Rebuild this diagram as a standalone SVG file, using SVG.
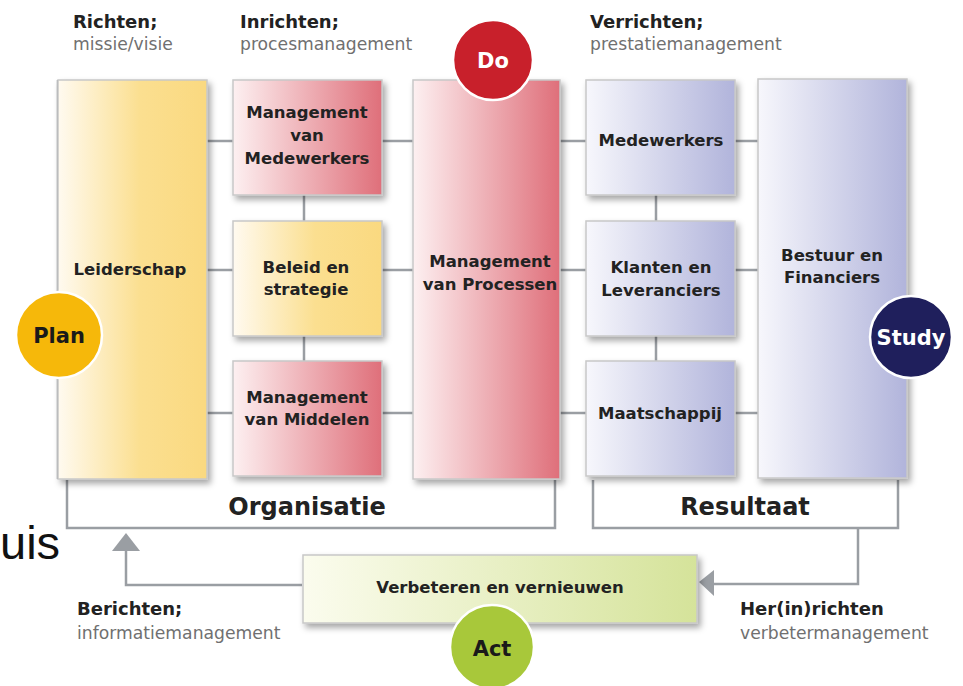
<svg xmlns="http://www.w3.org/2000/svg" width="963" height="686" viewBox="0 0 963 686">
<defs>
<linearGradient id="gy" x1="0" y1="0" x2="1" y2="0"><stop offset="0" stop-color="#fffaf0"/><stop offset="0.55" stop-color="#fbdf90"/><stop offset="1" stop-color="#fad980"/></linearGradient>
<linearGradient id="gr" x1="0" y1="0" x2="1" y2="0"><stop offset="0" stop-color="#fdf0f1"/><stop offset="1" stop-color="#df6f7a"/></linearGradient>
<linearGradient id="gb" x1="0" y1="0" x2="1" y2="0"><stop offset="0" stop-color="#f7f7fc"/><stop offset="1" stop-color="#b1b4db"/></linearGradient>
<linearGradient id="gg" x1="0" y1="0" x2="1" y2="0"><stop offset="0" stop-color="#fbfcee"/><stop offset="1" stop-color="#d5e39a"/></linearGradient>
<filter id="sh" x="-10%" y="-10%" width="130%" height="130%"><feDropShadow dx="3" dy="4" stdDeviation="3" flood-color="#000" flood-opacity="0.35"/></filter>
</defs>
<style>
.box{stroke:#c8c8c8;stroke-width:1.5;filter:url(#sh)}
.lbl{font-family:"DejaVu Sans",sans-serif;font-weight:bold;font-size:16.5px;fill:#222;text-anchor:middle}
.hd{font-family:"DejaVu Sans",sans-serif;font-weight:bold;font-size:18px;fill:#222}
.sub{font-family:"DejaVu Sans",sans-serif;font-size:17.2px;fill:#707070}
.big{font-family:"DejaVu Sans",sans-serif;font-weight:bold;font-size:24px;fill:#222;text-anchor:middle}
.cir{stroke:#fff;stroke-width:2.5}
.ct{font-family:"DejaVu Sans",sans-serif;font-weight:bold;font-size:21px;text-anchor:middle}
.ln{stroke:#9a9ea3;stroke-width:2.5;fill:none}
</style>
<rect width="963" height="686" fill="#fff"/>

<g id="headers">
<text class="hd" x="73" y="28">Richten;</text>
<text class="sub" x="73" y="50">missie/visie</text>
<text class="hd" x="240" y="28">Inrichten;</text>
<text class="sub" x="240" y="50">procesmanagement</text>
<text class="hd" x="590" y="28">Verrichten;</text>
<text class="sub" x="590" y="50">prestatiemanagement</text>
<text class="hd" x="77" y="615">Berichten;</text>
<text class="sub" x="77" y="639">informatiemanagement</text>
<text class="hd" x="740" y="615">Her(in)richten</text>
<text class="sub" x="740" y="639">verbetermanagement</text>
</g>

<text x="0" y="559" font-family="Liberation Sans, sans-serif" font-size="47" fill="#111">uis</text>

<g id="connectors">
<line class="ln" x1="207" y1="141" x2="233" y2="141"/>
<line class="ln" x1="382" y1="141" x2="413" y2="141"/>
<line class="ln" x1="560" y1="141" x2="586" y2="141"/>
<line class="ln" x1="735" y1="141" x2="758" y2="141"/>
<line class="ln" x1="207" y1="270" x2="233" y2="270"/>
<line class="ln" x1="382" y1="270" x2="413" y2="270"/>
<line class="ln" x1="560" y1="270" x2="586" y2="270"/>
<line class="ln" x1="735" y1="270" x2="758" y2="270"/>
<line class="ln" x1="207" y1="413" x2="233" y2="413"/>
<line class="ln" x1="382" y1="413" x2="413" y2="413"/>
<line class="ln" x1="560" y1="413" x2="586" y2="413"/>
<line class="ln" x1="735" y1="413" x2="758" y2="413"/>
<line class="ln" x1="304" y1="195" x2="304" y2="221"/>
<line class="ln" x1="304" y1="336" x2="304" y2="361"/>
<line class="ln" x1="656" y1="195" x2="656" y2="221"/>
<line class="ln" x1="656" y1="336" x2="656" y2="361"/>
<line class="ln" x1="58" y1="80" x2="58" y2="479"/>
<path class="ln" d="M67,480 V528 H555 V480"/>
<path class="ln" d="M593,480 V528 H898 V480"/>
<path class="ln" d="M302,585 H126 V551"/>
<path d="M126,533 L112,551 L140,551 z" fill="#9a9ea3"/>
<path class="ln" d="M858,528 V584 H714"/>
<path d="M699,582 L714,570 L714,596 z" fill="#9a9ea3"/>
</g>

<g id="leiderschap"><rect class="box" x="58" y="80" width="149" height="399" fill="url(#gy)"/><text class="lbl" x="130" y="275">Leiderschap</text></g>
<g id="mgmt-medewerkers"><rect class="box" x="233" y="80" width="149" height="115" fill="url(#gr)"/><text class="lbl" x="307" y="118">Management</text><text class="lbl" x="307" y="141">van</text><text class="lbl" x="307" y="164">Medewerkers</text></g>
<g id="beleid"><rect class="box" x="233" y="221" width="149" height="115" fill="url(#gy)"/><text class="lbl" x="306" y="273">Beleid en</text><text class="lbl" x="306" y="295">strategie</text></g>
<g id="mgmt-middelen"><rect class="box" x="233" y="361" width="149" height="115" fill="url(#gr)"/><text class="lbl" x="307" y="403">Management</text><text class="lbl" x="307" y="425">van Middelen</text></g>
<g id="mgmt-processen"><rect class="box" x="413" y="80" width="147" height="399" fill="url(#gr)"/><text class="lbl" x="490" y="267">Management</text><text class="lbl" x="490" y="290">van Processen</text></g>
<g id="medewerkers"><rect class="box" x="586" y="80" width="149" height="115" fill="url(#gb)"/><text class="lbl" x="661" y="146">Medewerkers</text></g>
<g id="klanten"><rect class="box" x="586" y="221" width="149" height="115" fill="url(#gb)"/><text class="lbl" x="661" y="273">Klanten en</text><text class="lbl" x="661" y="296">Leveranciers</text></g>
<g id="maatschappij"><rect class="box" x="586" y="361" width="149" height="115" fill="url(#gb)"/><text class="lbl" x="660" y="419">Maatschappij</text></g>
<g id="bestuur"><rect class="box" x="758" y="79" width="149" height="399" fill="url(#gb)"/><text class="lbl" x="832" y="261">Bestuur en</text><text class="lbl" x="832" y="283">Financiers</text></g>
<g id="verbeteren"><rect class="box" x="303" y="555" width="394" height="68" fill="url(#gg)"/><text class="lbl" x="500" y="593">Verbeteren en vernieuwen</text></g>

<text class="big" x="307" y="515">Organisatie</text>
<text class="big" x="745" y="515">Resultaat</text>

<g id="do"><circle class="cir" cx="493" cy="60" r="40" fill="#c8202b"/><text class="ct" x="493" y="68" fill="#fff">Do</text></g>
<g id="plan"><circle class="cir" cx="59" cy="335" r="43" fill="#f6b80a"/><text class="ct" x="59" y="343" fill="#1a1a1a">Plan</text></g>
<g id="study"><circle class="cir" cx="911" cy="337" r="41" fill="#1f1f5c"/><text class="ct" x="911" y="345" fill="#fff">Study</text></g>
<g id="act"><circle class="cir" cx="492" cy="647" r="42" fill="#a8c83a"/><text class="ct" x="492" y="656" fill="#1a1a1a">Act</text></g>
</svg>
